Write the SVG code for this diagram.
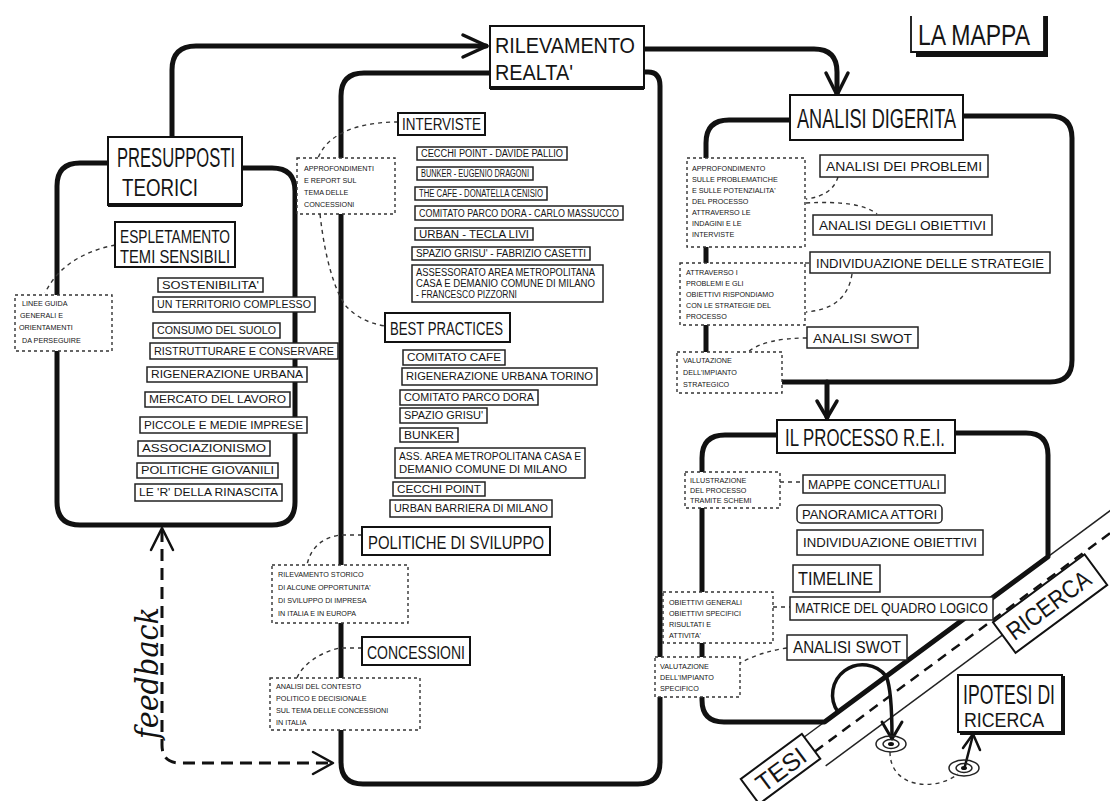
<svg xmlns="http://www.w3.org/2000/svg" width="1110" height="801" viewBox="0 0 1110 801">
<style>
.t{font-family:"Liberation Sans",Arial,sans-serif;fill:#151515}
.th{fill:none;stroke:#111;stroke-width:5;stroke-linecap:round;stroke-linejoin:round}
.ar{fill:none;stroke:#111;stroke-width:3.5;stroke-linecap:round;stroke-linejoin:round}
.bx{fill:#fff;stroke:#111;stroke-width:2}
.it{fill:#fff;stroke:#222;stroke-width:1.5}
.db{fill:#fff;stroke:#333;stroke-width:1.4;stroke-dasharray:3 3}
.dl{fill:none;stroke:#333;stroke-width:1.4;stroke-dasharray:4 4}
.sh{fill:none;stroke:#111;stroke-width:4}
.thin{fill:none;stroke:#222;stroke-width:1.5}
.s10{font-size:10px}
.s7{font-size:7.2px}
</style>
<rect width="1110" height="801" fill="#fff"/>

<g id="connectors">
  <!-- frames -->
  <path class="th" d="M 108 163 H 80 Q 57 163 57 186 V 502 Q 57 525 80 525 H 272 Q 295 525 295 502 V 191 Q 295 168 272 168 H 242"/>
  <path class="th" d="M 490 73 H 364 Q 341 73 341 96 V 762 Q 341 784 363 784 H 638 Q 660 784 660 762 V 86 Q 660 72 648 72 H 644"/>
  <path class="th" d="M 790 120 H 729 Q 706 120 706 143 V 370 Q 706 382 718 382 H 1050 Q 1072 382 1072 360 V 138 Q 1072 116 1050 116 H 963"/>
  <!-- road -->
  <g transform="translate(848.7 726.5) rotate(-36.5)">
    <line class="thin" x1="-42" y1="-18" x2="345" y2="-18"/>
    <line class="thin" x1="-42" y1="18" x2="182" y2="18"/>
    <line x1="-42" y1="0" x2="345" y2="0" stroke="#111" stroke-width="2.5" stroke-dasharray="10 7"/>
  </g>
  <path class="th" d="M 777 435 H 725 Q 702 435 702 458 V 700 Q 702 722 724 722 H 824.5 L 1048 556.7 V 455 Q 1048 433 1026 433 H 955"/>
  <!-- arrows -->
  <path class="th" d="M 172 137 V 70 Q 172 46 196 46 H 486"/>
  <path class="ar" d="M 463 35 L 487 46 L 463 57"/>
  <path class="th" d="M 644 49 H 814 Q 837 49 837 72 V 94"/>
  <path class="ar" d="M 826 73 L 837 95 L 848 73"/>
  <path class="th" d="M 827 382 V 417"/>
  <path class="ar" d="M 817 401 L 827 418 L 837 401"/>
  <!-- feedback -->
  <path d="M 162 530 V 745 Q 162 763 180 763 H 330" fill="none" stroke="#111" stroke-width="3" stroke-dasharray="12 7"/>
  <path fill="none" stroke="#111" stroke-width="2.5" stroke-linecap="round" stroke-linejoin="round" d="M 151 550 L 162 528 L 173 550"/>
  <path fill="none" stroke="#111" stroke-width="2.5" stroke-linecap="round" stroke-linejoin="round" d="M 313 752 L 333 763 L 313 774"/>
  <!-- arch + exit -->
  <path fill="none" stroke="#111" stroke-width="3.5" stroke-linecap="round" d="M 838 712 A 30 30 0 0 1 886.2 676.3 Q 892 690 892 738"/>
  <path fill="none" stroke="#111" stroke-width="3" stroke-linecap="round" stroke-linejoin="round" d="M 882 722 L 892 739 L 902 722"/>
  <path class="dl" d="M 890 752 C 890 788 935 792 958 774"/>
  <path fill="none" stroke="#111" stroke-width="2.5" stroke-linecap="round" d="M 965 766 L 973 735"/>
  <path fill="none" stroke="#111" stroke-width="2.5" stroke-linecap="round" stroke-linejoin="round" d="M 963 748 L 973 734 L 980 750"/>
  <!-- dashed links -->
  <path class="dl" d="M 115 245 C 90 250 60 262 45 293"/>
  <path class="dl" d="M 398 122 C 370 122 330 128 318 158"/>
  <path class="dl" d="M 320 214 C 325 260 335 290 345 305 Q 360 322 385 326"/>
  <path class="dl" d="M 362 535 H 340 C 320 538 310 550 307 565"/>
  <path class="dl" d="M 362 648 H 340 C 320 652 302 665 297 678"/>
  <path class="dl" d="M 838 177 Q 832 196 806 199"/>
  <path class="dl" d="M 806 203 Q 860 200 877 214"/>
  <path class="dl" d="M 805 263 H 810"/>
  <path class="dl" d="M 852 274 C 848 300 830 310 806 312"/>
  <path class="dl" d="M 807 338 Q 765 338 748 352"/>
  <path class="dl" d="M 780 482 H 803"/>
  <path class="dl" d="M 773 607 H 790"/>
  <path class="dl" d="M 787 648 Q 760 652 740 663"/>
</g>

<g id="la-mappa">
  <path d="M 911 16 V 52 H 1044 V 16" fill="none" stroke="#111" stroke-width="1.8"/>
  <path class="sh" d="M 916 55 H 1046 V 16"/>
  <text class="t" x="918" y="45" font-size="29" textLength="112" lengthAdjust="spacingAndGlyphs">LA MAPPA</text>
</g>

<g id="presupposti">
  <rect class="bx" x="108" y="137" width="134" height="68"/>
  <path class="sh" d="M 108 205 H 242"/>
  <text class="t" x="117" y="167" font-size="27" textLength="118" lengthAdjust="spacingAndGlyphs">PRESUPPOSTI</text>
  <text class="t" x="122" y="196" font-size="23" textLength="76" lengthAdjust="spacingAndGlyphs">TEORICI</text>
</g>

<g id="espletamento">
  <rect class="bx" x="115" y="222" width="120" height="45" stroke-width="1.8"/>
  <text class="t" x="120" y="243" font-size="18" textLength="110" lengthAdjust="spacingAndGlyphs">ESPLETAMENTO</text>
  <text class="t" x="120" y="263" font-size="18" textLength="110" lengthAdjust="spacingAndGlyphs">TEMI SENSIBILI</text>
</g>

<g id="linee-guida">
  <rect class="db" x="15" y="295" width="97" height="56"/>
  <text class="t s7" x="22" y="306">LINEE GUIDA</text>
  <text class="t s7" x="20" y="318">GENERALI E</text>
  <text class="t s7" x="19" y="330">ORIENTAMENTI</text>
  <text class="t s7" x="22" y="343">DA PERSEGUIRE</text>
</g>

<g id="temi-sensibili">
  <rect class="it" x="158" y="278" width="105" height="14"/><text class="t s10" x="162" y="288.6" textLength="97" lengthAdjust="spacingAndGlyphs">SOSTENIBILITA'</text>
  <rect class="it" x="153" y="297" width="162" height="15"/><text class="t s10" x="157" y="308.1" textLength="154" lengthAdjust="spacingAndGlyphs">UN TERRITORIO COMPLESSO</text>
  <rect class="it" x="153" y="323" width="127" height="15"/><text class="t s10" x="157" y="334.1" textLength="119" lengthAdjust="spacingAndGlyphs">CONSUMO DEL SUOLO</text>
  <rect class="it" x="150" y="343" width="188" height="16"/><text class="t s10" x="154" y="354.6" textLength="180" lengthAdjust="spacingAndGlyphs">RISTRUTTURARE E CONSERVARE</text>
  <rect class="it" x="147" y="367" width="160" height="15"/><text class="t s10" x="151" y="378.1" textLength="152" lengthAdjust="spacingAndGlyphs">RIGENERAZIONE URBANA</text>
  <rect class="it" x="145" y="392" width="145" height="15"/><text class="t s10" x="149" y="403.1" textLength="137" lengthAdjust="spacingAndGlyphs">MERCATO DEL LAVORO</text>
  <rect class="it" x="140" y="417" width="167" height="16"/><text class="t s10" x="144" y="428.6" textLength="159" lengthAdjust="spacingAndGlyphs">PICCOLE E MEDIE IMPRESE</text>
  <rect class="it" x="138" y="441" width="132" height="15"/><text class="t s10" x="142" y="452.1" textLength="124" lengthAdjust="spacingAndGlyphs">ASSOCIAZIONISMO</text>
  <rect class="it" x="137" y="463" width="141" height="15"/><text class="t s10" x="141" y="474.1" textLength="133" lengthAdjust="spacingAndGlyphs">POLITICHE GIOVANILI</text>
  <rect class="it" x="135" y="484" width="147" height="17"/><text class="t s10" x="139" y="496.1" textLength="139" lengthAdjust="spacingAndGlyphs">LE 'R' DELLA RINASCITA</text>
</g>

<g id="feedback">
  <text x="158" y="673" transform="rotate(-90 158 673)" text-anchor="middle" font-family="'DejaVu Serif',serif" font-style="italic" font-size="32" fill="#111" textLength="132" lengthAdjust="spacingAndGlyphs">feedback</text>
</g>

<g id="rilevamento">
  <rect class="bx" x="490" y="26" width="154" height="62"/>
  <path class="sh" d="M 490 88 H 644"/>
  <text class="t" x="495" y="53" font-size="22" textLength="140" lengthAdjust="spacingAndGlyphs">RILEVAMENTO</text>
  <text class="t" x="495" y="80" font-size="22" textLength="78" lengthAdjust="spacingAndGlyphs">REALTA'</text>
</g>

<g id="interviste">
  <rect class="bx" x="398" y="113" width="87" height="22" stroke-width="1.8"/>
  <text class="t" x="402" y="130" font-size="16" textLength="79" lengthAdjust="spacingAndGlyphs">INTERVISTE</text>
  <rect class="it" x="417" y="147" width="150" height="13"/><text class="t s10" x="421" y="157.1" textLength="142" lengthAdjust="spacingAndGlyphs">CECCHI POINT - DAVIDE PALLIO</text>
  <rect class="it" x="417" y="167" width="116" height="13"/><text class="t s10" x="421" y="177.1" textLength="108" lengthAdjust="spacingAndGlyphs">BUNKER - EUGENIO DRAGONI</text>
  <rect class="it" x="415" y="187" width="132" height="13"/><text class="t s10" x="419" y="197.1" textLength="124" lengthAdjust="spacingAndGlyphs">THE CAFE - DONATELLA CENISIO</text>
  <rect class="it" x="415" y="206" width="208" height="14"/><text class="t s10" x="419" y="216.6" textLength="200" lengthAdjust="spacingAndGlyphs">COMITATO PARCO DORA - CARLO MASSUCCO</text>
  <rect class="it" x="415" y="228" width="118" height="12"/><text class="t s10" x="419" y="237.6" textLength="110" lengthAdjust="spacingAndGlyphs">URBAN - TECLA LIVI</text>
  <rect class="it" x="412" y="247" width="178" height="13"/><text class="t s10" x="416" y="257.1" textLength="170" lengthAdjust="spacingAndGlyphs">SPAZIO GRISU' - FABRIZIO CASETTI</text>
  <rect class="it" x="412" y="265" width="191" height="37"/>
  <text class="t s10" x="416" y="276" textLength="179" lengthAdjust="spacingAndGlyphs">ASSESSORATO AREA METROPOLITANA</text>
  <text class="t s10" x="416" y="287" textLength="179" lengthAdjust="spacingAndGlyphs">CASA E DEMANIO COMUNE DI MILANO</text>
  <text class="t s10" x="416" y="298" textLength="101" lengthAdjust="spacingAndGlyphs">- FRANCESCO PIZZORNI</text>
</g>

<g id="approfondimenti">
  <rect class="db" x="297" y="158" width="98" height="56"/>
  <text class="t s7" x="304" y="171">APPROFONDIMENTI</text>
  <text class="t s7" x="304" y="183">E REPORT SUL</text>
  <text class="t s7" x="304" y="195">TEMA DELLE</text>
  <text class="t s7" x="304" y="207">CONCESSIONI</text>
</g>

<g id="best-practices">
  <rect class="bx" x="385" y="313" width="125" height="29" stroke-width="1.8"/>
  <text class="t" x="390" y="335" font-size="19" textLength="113" lengthAdjust="spacingAndGlyphs">BEST PRACTICES</text>
  <rect class="it" x="403" y="350" width="102" height="15"/><text class="t s10" x="407" y="361.1" textLength="94" lengthAdjust="spacingAndGlyphs">COMITATO CAFE</text>
  <rect class="it" x="402" y="368" width="195" height="17"/><text class="t s10" x="406" y="380.1" textLength="187" lengthAdjust="spacingAndGlyphs">RIGENERAZIONE URBANA TORINO</text>
  <rect class="it" x="400" y="390" width="138" height="15"/><text class="t s10" x="404" y="401.1" textLength="130" lengthAdjust="spacingAndGlyphs">COMITATO PARCO DORA</text>
  <rect class="it" x="400" y="408" width="87" height="15"/><text class="t s10" x="404" y="419.1" textLength="79" lengthAdjust="spacingAndGlyphs">SPAZIO GRISU'</text>
  <rect class="it" x="400" y="428" width="58" height="14"/><text class="t s10" x="404" y="438.6" textLength="50" lengthAdjust="spacingAndGlyphs">BUNKER</text>
  <rect class="it" x="395" y="448" width="190" height="30"/>
  <text class="t s10" x="399" y="460" textLength="182" lengthAdjust="spacingAndGlyphs">ASS. AREA METROPOLITANA CASA E</text>
  <text class="t s10" x="399" y="473" textLength="168" lengthAdjust="spacingAndGlyphs">DEMANIO COMUNE DI MILANO</text>
  <rect class="it" x="393" y="482" width="92" height="14"/><text class="t s10" x="397" y="492.6" textLength="84" lengthAdjust="spacingAndGlyphs">CECCHI POINT</text>
  <rect class="it" x="390" y="500" width="162" height="17"/><text class="t s10" x="394" y="512.1" textLength="154" lengthAdjust="spacingAndGlyphs">URBAN BARRIERA DI MILANO</text>
</g>

<g id="politiche">
  <rect class="bx" x="362" y="527" width="188" height="28" stroke-width="1.8"/>
  <text class="t" x="368" y="549" font-size="18" textLength="176" lengthAdjust="spacingAndGlyphs">POLITICHE DI SVILUPPO</text>
</g>
<g id="rilevamento-opportunita">
  <rect class="db" x="272" y="565" width="136" height="58"/>
  <text class="t s7" x="278" y="577">RILEVAMENTO STORICO</text>
  <text class="t s7" x="278" y="590">DI ALCUNE OPPORTUNITA'</text>
  <text class="t s7" x="278" y="603">DI SVILUPPO DI IMPRESA</text>
  <text class="t s7" x="278" y="616">IN ITALIA E IN EUROPA</text>
</g>

<g id="concessioni">
  <rect class="bx" x="362" y="637" width="108" height="28" stroke-width="1.8"/>
  <text class="t" x="367" y="659" font-size="18" textLength="98" lengthAdjust="spacingAndGlyphs">CONCESSIONI</text>
</g>
<g id="analisi-contesto">
  <rect class="db" x="270" y="678" width="150" height="52"/>
  <text class="t s7" x="276" y="689">ANALISI DEL CONTESTO</text>
  <text class="t s7" x="276" y="701">POLITICO E DECISIONALE</text>
  <text class="t s7" x="276" y="713">SUL TEMA DELLE CONCESSIONI</text>
  <text class="t s7" x="276" y="725">IN ITALIA</text>
</g>

<g id="analisi-digerita">
  <rect class="bx" x="790" y="95" width="173" height="45"/>
  <text class="t" x="797" y="128" font-size="27" textLength="159" lengthAdjust="spacingAndGlyphs">ANALISI DIGERITA</text>
</g>
<g id="analisi-items">
  <rect class="it" x="820" y="155" width="168" height="22" stroke-width="1.8"/><text class="t" x="826" y="171" font-size="13" textLength="156" lengthAdjust="spacingAndGlyphs">ANALISI DEI PROBLEMI</text>
  <rect class="it" x="813" y="215" width="179" height="20" stroke-width="1.8"/><text class="t" x="819" y="230" font-size="13" textLength="167" lengthAdjust="spacingAndGlyphs">ANALISI DEGLI OBIETTIVI</text>
  <rect class="it" x="810" y="252" width="240" height="21" stroke-width="1.8"/><text class="t" x="816" y="268" font-size="13" textLength="228" lengthAdjust="spacingAndGlyphs">INDIVIDUAZIONE DELLE STRATEGIE</text>
  <rect class="it" x="807" y="327" width="111" height="21" stroke-width="1.8"/><text class="t" x="813" y="343" font-size="13" textLength="99" lengthAdjust="spacingAndGlyphs">ANALISI SWOT</text>
</g>
<g id="note-problematiche">
  <rect class="db" x="687" y="158" width="118" height="89"/>
  <text class="t s7" x="692" y="171">APPROFONDIMENTO</text>
  <text class="t s7" x="692" y="182">SULLE PROBLEMATICHE</text>
  <text class="t s7" x="692" y="193">E SULLE POTENZIALITA'</text>
  <text class="t s7" x="692" y="204">DEL PROCESSO</text>
  <text class="t s7" x="692" y="215">ATTRAVERSO LE</text>
  <text class="t s7" x="692" y="226">INDAGINI E LE</text>
  <text class="t s7" x="692" y="237">INTERVISTE</text>
</g>
<g id="note-strategie">
  <rect class="db" x="680" y="263" width="125" height="62"/>
  <text class="t s7" x="686" y="275">ATTRAVERSO I</text>
  <text class="t s7" x="686" y="286">PROBLEMI E GLI</text>
  <text class="t s7" x="686" y="297">OBIETTIVI RISPONDIAMO</text>
  <text class="t s7" x="686" y="308">CON LE STRATEGIE DEL</text>
  <text class="t s7" x="686" y="319">PROCESSO</text>
</g>
<g id="note-strategico">
  <rect class="db" x="677" y="352" width="105" height="41"/>
  <text class="t s7" x="683" y="363">VALUTAZIONE</text>
  <text class="t s7" x="683" y="375">DELL'IMPIANTO</text>
  <text class="t s7" x="683" y="387">STRATEGICO</text>
</g>

<g id="processo">
  <rect class="bx" x="777" y="420" width="178" height="33"/>
  <text class="t" x="785" y="446" font-size="24" textLength="160" lengthAdjust="spacingAndGlyphs">IL PROCESSO R.E.I.</text>
</g>
<g id="processo-items">
  <rect class="it" x="803" y="475" width="142" height="18" stroke-width="1.8"/><text class="t" x="808" y="489" font-size="13" textLength="132" lengthAdjust="spacingAndGlyphs">MAPPE CONCETTUALI</text>
  <rect class="it" x="797" y="505" width="145" height="18" rx="4" stroke-width="1.8"/><text class="t" x="802" y="519" font-size="12" textLength="135" lengthAdjust="spacingAndGlyphs">PANORAMICA ATTORI</text>
  <rect class="it" x="797" y="530" width="186" height="25" stroke-width="1.8"/><text class="t" x="803" y="547" font-size="12" textLength="174" lengthAdjust="spacingAndGlyphs">INDIVIDUAZIONE OBIETTIVI</text>
  <rect class="it" x="793" y="565" width="87" height="27" stroke-width="1.8"/><text class="t" x="798" y="585" font-size="18" textLength="75" lengthAdjust="spacingAndGlyphs">TIMELINE</text>
  <rect class="it" x="790" y="597" width="203" height="23" stroke-width="1.8"/><text class="t" x="795" y="613" font-size="14" textLength="193" lengthAdjust="spacingAndGlyphs">MATRICE DEL QUADRO LOGICO</text>
  <rect class="it" x="787" y="635" width="120" height="25" stroke-width="1.8"/><text class="t" x="793" y="653" font-size="16" textLength="108" lengthAdjust="spacingAndGlyphs">ANALISI SWOT</text>
</g>
<g id="note-schemi">
  <rect class="db" x="685" y="472" width="95" height="36"/>
  <text class="t s7" x="690" y="483">ILLUSTRAZIONE</text>
  <text class="t s7" x="690" y="493">DEL PROCESSO</text>
  <text class="t s7" x="690" y="503">TRAMITE SCHEMI</text>
</g>
<g id="note-obiettivi">
  <rect class="db" x="663" y="592" width="110" height="51"/>
  <text class="t s7" x="669" y="605">OBIETTIVI GENERALI</text>
  <text class="t s7" x="669" y="616">OBIETTIVI SPECIFICI</text>
  <text class="t s7" x="669" y="627">RISULTATI E</text>
  <text class="t s7" x="669" y="638">ATTIVITA'</text>
</g>
<g id="note-specifico">
  <rect class="db" x="655" y="657" width="85" height="40"/>
  <text class="t s7" x="660" y="669">VALUTAZIONE</text>
  <text class="t s7" x="660" y="680">DELL'IMPIANTO</text>
  <text class="t s7" x="660" y="691">SPECIFICO</text>
</g>

<g id="targets">
  <ellipse cx="891" cy="744" rx="15" ry="8" fill="none" stroke="#222" stroke-width="1.5"/>
  <ellipse cx="891" cy="744" rx="8" ry="4.5" fill="none" stroke="#222" stroke-width="1.5"/>
  <ellipse cx="891" cy="744" rx="3" ry="2" fill="#111"/>
  <ellipse cx="964" cy="768" rx="15" ry="8" fill="none" stroke="#222" stroke-width="1.5"/>
  <ellipse cx="964" cy="768" rx="8" ry="4.5" fill="none" stroke="#222" stroke-width="1.5"/>
  <ellipse cx="964" cy="768" rx="3" ry="2" fill="#111"/>
</g>

<g id="ipotesi">
  <rect class="bx" x="958" y="675" width="104" height="57"/>
  <path class="sh" d="M 960 733 H 1063 V 676"/>
  <text class="t" x="963" y="704" font-size="27" textLength="92" lengthAdjust="spacingAndGlyphs">IPOTESI DI</text>
  <text class="t" x="964" y="727" font-size="20" textLength="80" lengthAdjust="spacingAndGlyphs">RICERCA</text>
</g>

<g id="tesi" transform="translate(848.7 726.5) rotate(-36.5)">
  <rect x="-118" y="-22" width="76" height="31" fill="#fff" stroke="#111" stroke-width="2"/>
  <text class="t" x="-80" y="3" font-size="25" text-anchor="middle" textLength="56" lengthAdjust="spacingAndGlyphs">TESI</text>
</g>

<g id="ricerca" transform="translate(848.7 726.5) rotate(-36.5)">
  <rect x="178" y="2" width="114" height="38" fill="#fff" stroke="#111" stroke-width="2"/>
  <text class="t" x="184" y="30" font-size="25" textLength="98" lengthAdjust="spacingAndGlyphs">RICERCA</text>
</g>
</svg>
